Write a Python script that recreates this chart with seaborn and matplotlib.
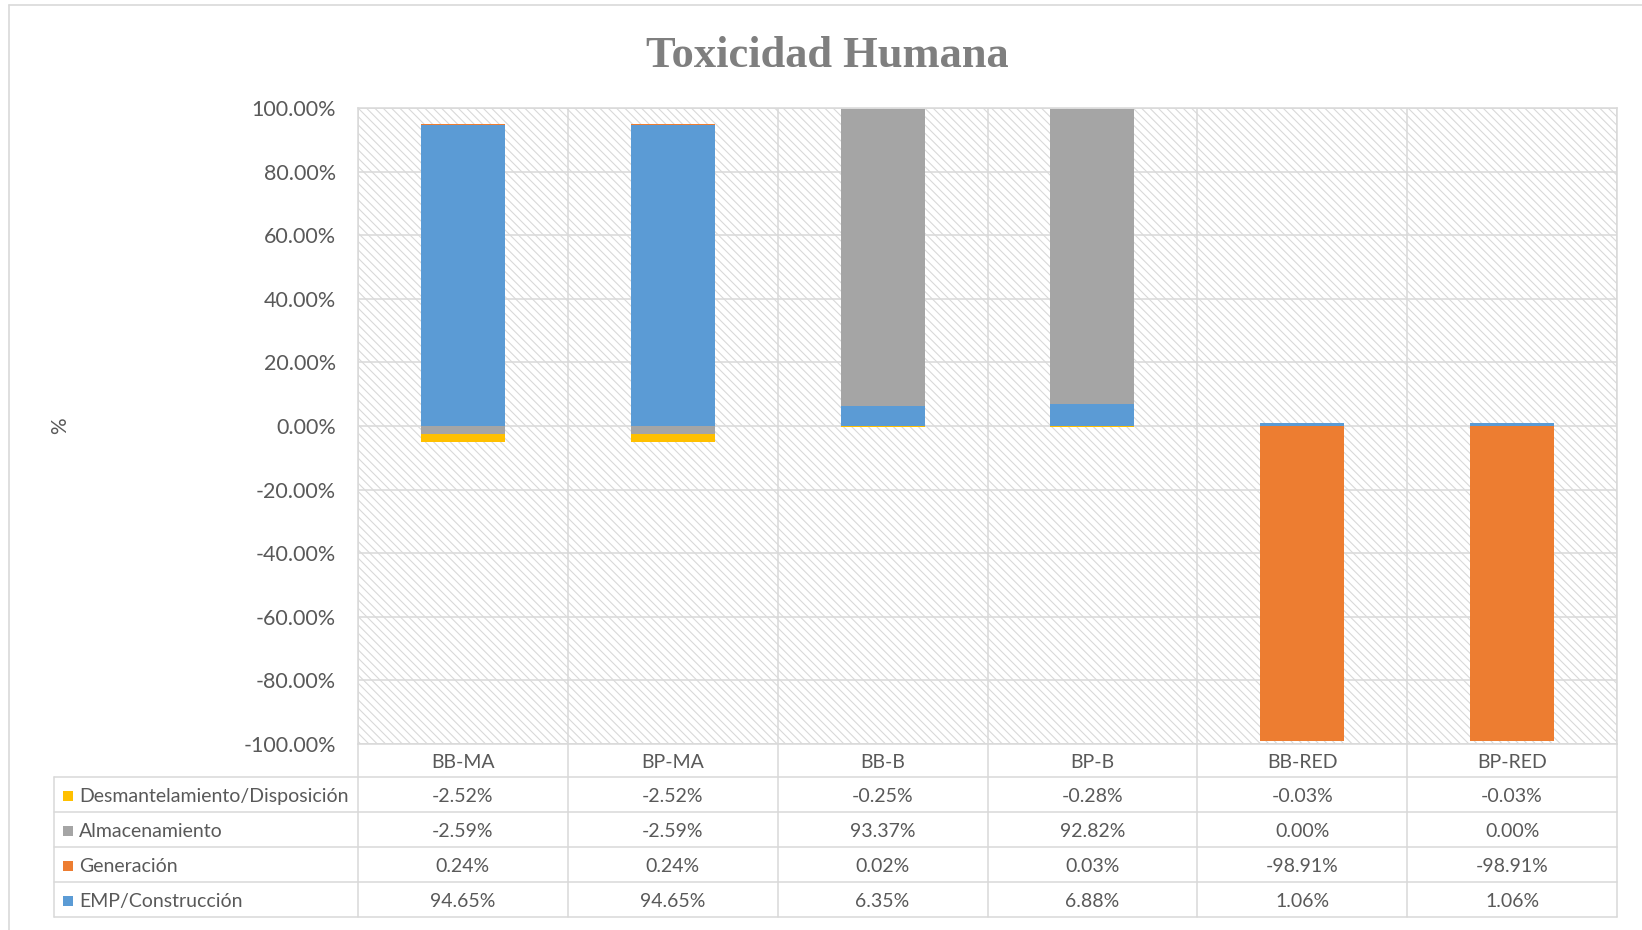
import numpy as np
import matplotlib
matplotlib.use("Agg")
import matplotlib.pyplot as plt
import matplotlib.transforms as mtransforms
from matplotlib.patches import Rectangle
from matplotlib.lines import Line2D
import seaborn as sns

# ---------------- data ----------------
categories = ["BB-MA", "BP-MA", "BB-B", "BP-B", "BB-RED", "BP-RED"]
series_names = ["EMP/Construcción", "Generación", "Almacenamiento",
                "Desmantelamiento/Disposición"]
emp = [94.65, 94.65, 6.35, 6.88, 1.06, 1.06]
generacion = [0.24, 0.24, 0.02, 0.03, -98.91, -98.91]
almacenamiento = [-2.59, -2.59, 93.37, 92.82, 0.00, 0.00]
desmantelamiento = [-2.52, -2.52, -0.25, -0.28, -0.03, -0.03]
series_colors = ["#5B9BD5", "#ED7D31", "#A5A5A5", "#FFC000"]
yticks = [-100, -80, -60, -40, -20, 0, 20, 40, 60, 80, 100]
title = "Toxicidad Humana"

# ---------------- style ----------------
sns.set_style("white")
plt.rcParams['font.family'] = ['Lato', 'DejaVu Sans']
plt.rcParams['hatch.linewidth'] = 0.8

TXT = "#595959"
GRID = "#d9d9d9"
W, H = 1642, 930
fig = plt.figure(figsize=(W / 100, H / 100), dpi=100)

# plot area
ax = fig.add_axes([358 / W, 1 - 744 / H, 1259 / W, 636 / H])
ax.set_facecolor("white")
ax.add_patch(Rectangle((0, 0), 1, 1, transform=ax.transAxes, facecolor="white",
                       edgecolor="#d9d9d9", hatch="\\\\\\\\", linewidth=0, zorder=0))

vals = np.array([emp, generacion, almacenamiento, desmantelamiento], dtype=float)
pos_base = np.zeros(len(categories))
neg_base = np.zeros(len(categories))
for k in range(len(series_names)):
    v = vals[k]
    bottom = np.where(v >= 0, pos_base, neg_base)
    sns.barplot(x=categories, y=v, bottom=bottom, color=series_colors[k],
                width=0.4, saturation=1, linewidth=0, errorbar=None,
                ax=ax, zorder=3)
    pos_base = pos_base + np.where(v > 0, v, 0)
    neg_base = neg_base + np.where(v < 0, v, 0)

ax.set_xlim(-0.5, len(categories) - 0.5)
ax.set_ylim(-100, 100)
ax.set_yticks(yticks)
ax.set_yticklabels([f"{t:.2f}%" for t in yticks], fontsize=15.5, color=TXT)
ax.set_xticks(np.arange(len(categories)))
ax.set_xticklabels([])
ax.set_xticks(np.arange(-0.5, len(categories), 1), minor=True)
ax.tick_params(axis="both", which="both", length=0)
ax.tick_params(axis="y", pad=16)
ax.grid(axis="y", which="major", color=GRID, linewidth=1.1, zorder=1)
ax.grid(axis="x", which="minor", color=GRID, linewidth=1.1, zorder=1)
ax.set_axisbelow(True)
for s in ax.spines.values():
    s.set_color(GRID)
    s.set_linewidth(1.1)
ax.set_xlabel("")
ax.set_ylabel("%", fontsize=15, color=TXT)
ax.yaxis.set_label_coords(-0.2285, 0.5)

# ---------------- data table ----------------
tab = fig.add_axes([0, 0, 1, 1], zorder=-1)
tab.set_xlim(0, W)
tab.set_ylim(H, 0)
tab.axis("off")
blend = mtransforms.blended_transform_factory(ax.transData, tab.transData)

row_top = 777
row_h = 35
n_rows = len(series_names)
table_bottom = row_top + n_rows * row_h
# outer chart border
tab.add_line(Line2D([9, W], [5, 5], color=GRID, linewidth=1.2))
tab.add_line(Line2D([9, 9], [5, H], color=GRID, linewidth=1.2))

# vertical column separators
for b in np.arange(-0.5, len(categories), 1):
    tab.add_line(Line2D([b, b], [744, table_bottom], color=GRID, linewidth=1.1,
                        transform=blend))
# horizontal row lines
for r in range(n_rows + 1):
    y = row_top + r * row_h
    tab.add_line(Line2D([54, 1617], [y, y], color=GRID, linewidth=1.1))
tab.add_line(Line2D([54, 54], [row_top, table_bottom], color=GRID, linewidth=1.1))

# header labels
for i, c in enumerate(categories):
    tab.text(i, 762.5, c, transform=blend, ha="center", va="center",
             fontsize=14, color=TXT)

# rows: listed in reverse series order
for r, k in enumerate(range(n_rows - 1, -1, -1)):
    yc = row_top + (r + 0.5) * row_h
    tab.add_patch(Rectangle((63, yc - 4), 10, 10, facecolor=series_colors[k],
                            edgecolor="none"))
    tab.text(79, yc + 2, series_names[k], ha="left", va="center", fontsize=14,
             color=TXT)
    for i in range(len(categories)):
        tab.text(i, yc + 2, f"{vals[k][i]:.2f}%", transform=blend, ha="center",
                 va="center", fontsize=14, color=TXT)

# title
fig.text(827 / W, 1 - 56 / H, title, ha="center", va="center",
         family=["Liberation Serif", "DejaVu Serif"], weight="bold",
         fontsize=32, color="#7f7f7f")

fig.savefig("out.png", dpi=100)
